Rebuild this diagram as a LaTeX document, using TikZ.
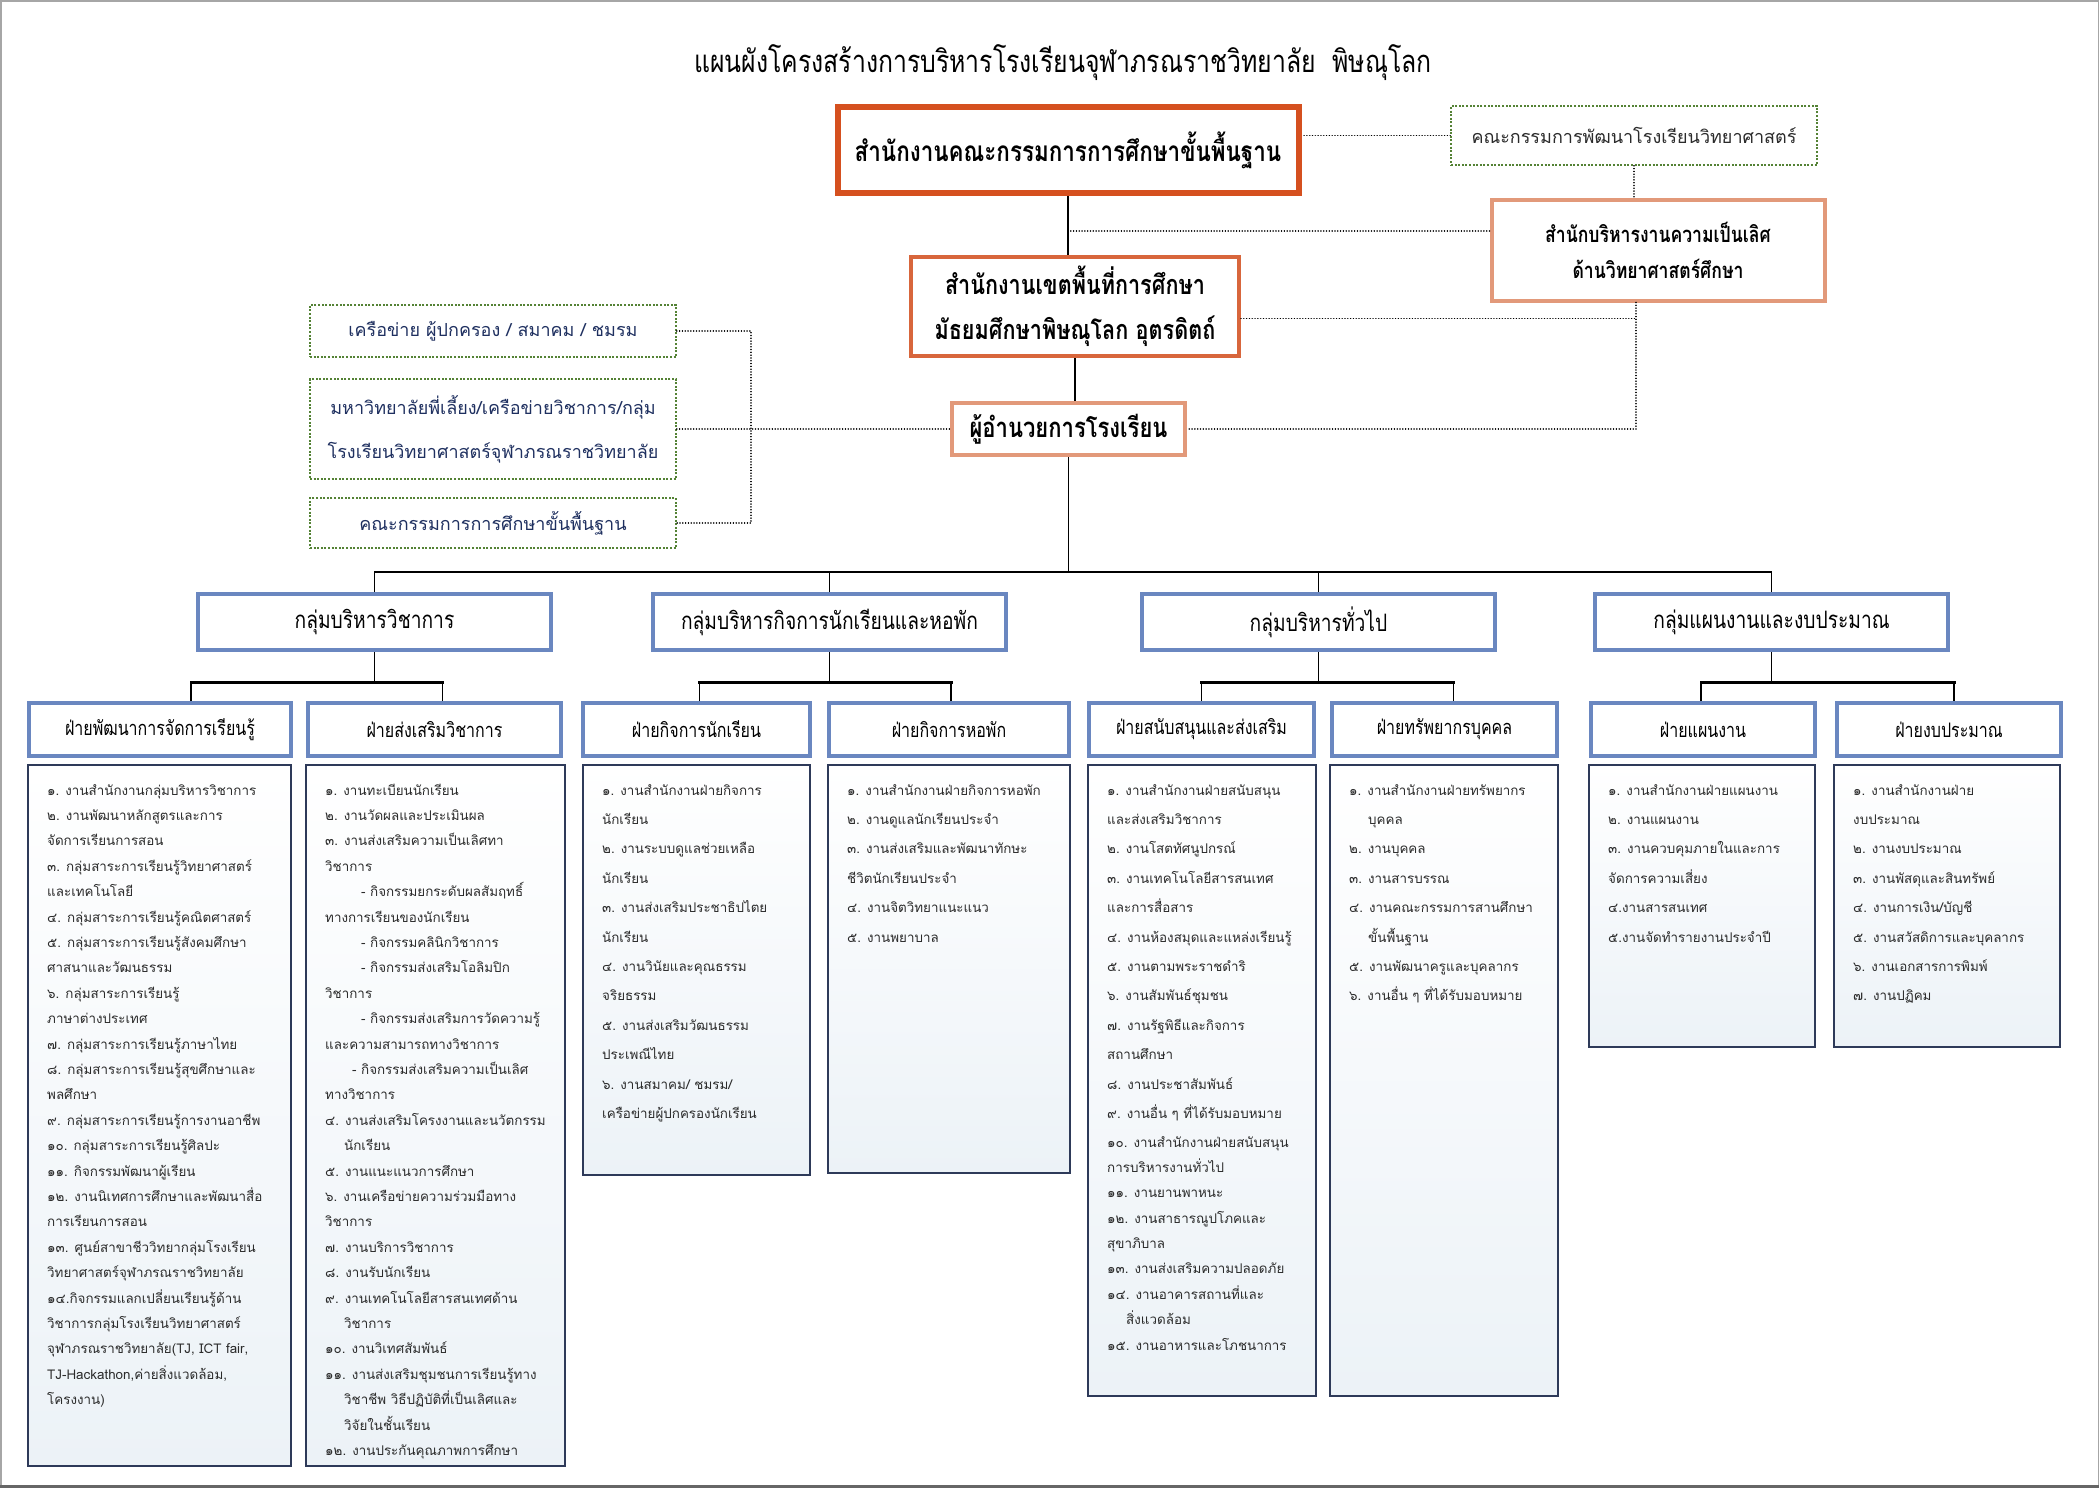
\documentclass[tikz,border=0pt]{standalone}
\usepackage{fontspec}
\setmainfont[Script=Thai]{Loma}
\newfontfamily\headfont[Script=Thai,FakeStretch=0.8]{Loma}
\definecolor{obecred}{HTML}{D5501F}
\definecolor{areared}{HTML}{D8663C}
\definecolor{salmon}{HTML}{E2997A}
\definecolor{netgreen}{HTML}{548235}
\definecolor{boxblue}{HTML}{6A87C0}
\definecolor{listnavy}{HTML}{2E3A59}
\definecolor{listbot}{HTML}{ECF2F7}
\definecolor{listgray}{HTML}{2B2B2B}
\definecolor{navytext}{HTML}{1F3060}

\begin{document}
\begin{tikzpicture}[x=1pt, y=-1pt,
  orgbox/.style={draw=#1, line width=4pt, fill=white, align=center, inner sep=0pt, text=black},
  netbox/.style={draw=netgreen, line width=1.6pt, dash pattern=on 2pt off 1.6pt, fill=white,
    align=center, inner sep=0pt, minimum width=366pt, text=navytext, font=\fontsize{18}{44}\selectfont},
  grpbox/.style={draw=boxblue, line width=4pt, fill=white, minimum width=353pt, minimum height=56pt,
    inner sep=0pt, font=\headfont\fontsize{24}{28}\selectfont},
  subbox/.style={draw=boxblue, line width=4pt, fill=white, minimum height=53pt, inner sep=0pt,
    font=\headfont\fontsize{20}{24}\selectfont},
  listbox/.style={draw=listnavy, line width=2pt, top color=white, bottom color=listbot,
    anchor=north, inner sep=0pt},
  listtext/.style={anchor=base west, inner sep=0pt, text=listgray, font=\fontsize{13.4}{#1}\selectfont},
  link/.style={line width=1.6pt},
  bus/.style={line width=3pt, line cap=rect},
  dotlink/.style={line width=1.6pt, line cap=round, dash pattern=on 0.01pt off 2.8pt}]

  \useasboundingbox (0,0) rectangle (2099,1491);
  % page frame
  \draw[gray!70, line width=1.5pt] (0.75,0.75) rectangle (2098.25,1487);
  \draw[gray!80!black, line width=3pt] (0,1486) -- (2099,1486);

  % title
  \node[font=\headfont\fontsize{31}{36}\selectfont] (title) at (1063,63)
    {แผนผังโครงสร้างการบริหารโรงเรียนจุฬาภรณราชวิทยาลัย\ \ พิษณุโลก};

  % top offices
  \node[orgbox=obecred, line width=6pt, minimum width=461pt, minimum height=86pt,
    font=\headfont\bfseries\fontsize{28}{32}\selectfont] (obec) at (1068,150)
    {สำนักงานคณะกรรมการการศึกษาขั้นพื้นฐาน};
  \node[netbox, minimum height=59pt, text=listgray, font=\fontsize{18}{20}\selectfont] (dev) at (1634,135.5)
    {คณะกรรมการพัฒนาโรงเรียนวิทยาศาสตร์};
  \node[orgbox=salmon, minimum width=333pt, minimum height=101pt,
    font=\headfont\bfseries\fontsize{22}{36}\selectfont] (exc) at (1658,250)
    {สำนักบริหารงานความเป็นเลิศ\\ด้านวิทยาศาสตร์ศึกษา};
  \node[orgbox=areared, minimum width=328pt, minimum height=99pt,
    font=\headfont\bfseries\fontsize{27}{45}\selectfont] (area) at (1075,306.5)
    {สำนักงานเขตพื้นที่การศึกษา\\มัธยมศึกษาพิษณุโลก อุตรดิตถ์};
  \node[orgbox=salmon, minimum width=233pt, minimum height=52pt,
    font=\headfont\bfseries\fontsize{27.5}{30}\selectfont] (dir) at (1068.5,429)
    {ผู้อำนวยการโรงเรียน};

  % networks on the left
  \node[netbox, minimum height=52pt] (net1) at (493,331) {เครือข่าย ผู้ปกครอง / สมาคม / ชมรม};
  \node[netbox, minimum height=100pt] (net2) at (493,429)
    {มหาวิทยาลัยพี่เลี้ยง/เครือข่ายวิชาการ/กลุ่ม\\โรงเรียนวิทยาศาสตร์จุฬาภรณราชวิทยาลัย};
  \node[netbox, minimum height=50pt] (net3) at (493,523) {คณะกรรมการการศึกษาขั้นพื้นฐาน};

  % links between offices
  \draw[link] (obec.south) -- (obec.south |- area.north);
  \draw[link] (area.south) -- (area.south |- dir.north);
  \draw[dotlink] (dev.west) -- (dev.west -| obec.east);
  \draw[dotlink] (dev.south) -- (dev.south |- exc.north);
  \draw[dotlink] ([yshift=19pt]exc.west) -- ([yshift=19pt]exc.west -| obec.south);
  \coordinate (excdown) at ([xshift=-22pt]exc.south);
  \draw[dotlink] (excdown) |- (dir.east);
  \draw[dotlink] ([yshift=-12pt]area.east) -- ([yshift=-12pt]area.east -| excdown);
  \coordinate (bracket) at (751,331);
  \draw[dotlink] (net1.east) -- (bracket) |- (net3.east);
  \draw[dotlink] (net2.east) -- (dir.west);

  % groups
  \node[grpbox] (g1) at (374.5,622) {กลุ่มบริหารวิชาการ};
  \node[grpbox] (g2) at (829.5,622) {กลุ่มบริหารกิจการนักเรียนและหอพัก};
  \node[grpbox] (g3) at (1318.5,622) {กลุ่มบริหารทั่วไป};
  \node[grpbox] (g4) at (1771.5,622) {กลุ่มแผนงานและงบประมาณ};

  \coordinate (mainbus) at (0,572);
  \draw[link] (dir.south) -- (dir.south |- mainbus);
  \draw[link] (g1.north) -- (g1.north |- mainbus) -- (g4.north |- mainbus) -- (g4.north);
  \draw[link] (g2.north) -- (g2.north |- mainbus);
  \draw[link] (g3.north) -- (g3.north |- mainbus);

  % sections
  \node[subbox, minimum width=262pt] (s1) at (160,729.5) {ฝ่ายพัฒนาการจัดการเรียนรู้};
  \node[subbox, minimum width=253pt] (s2) at (434.5,729.5) {ฝ่ายส่งเสริมวิชาการ};
  \node[subbox, minimum width=227pt] (s3) at (696.5,729.5) {ฝ่ายกิจการนักเรียน};
  \node[subbox, minimum width=240pt] (s4) at (949,729.5) {ฝ่ายกิจการหอพัก};
  \node[subbox, minimum width=225pt] (s5) at (1201.5,729.5) {ฝ่ายสนับสนุนและส่งเสริม};
  \node[subbox, minimum width=225pt] (s6) at (1444.5,729.5) {ฝ่ายทรัพยากรบุคคล};
  \node[subbox, minimum width=224pt] (s7) at (1703,729.5) {ฝ่ายแผนงาน};
  \node[subbox, minimum width=224pt] (s8) at (1949,729.5) {ฝ่ายงบประมาณ};

  \coordinate (subbus) at (0,682);
  \foreach \g/\a/\da/\b/\db in {g1/s1/31/s2/8, g2/s3/3/s4/2, g3/s5/0/s6/9, g4/s7/-2/s8/5} {
    \draw[link] (\g.south) -- (\g.south |- subbus);
    \coordinate (\a top) at ([xshift=\da pt]\a.north);
    \coordinate (\b top) at ([xshift=\db pt]\b.north);
    \draw[link] (\a top) -- (\a top |- subbus);
    \draw[link] (\b top) -- (\b top |- subbus);
    \draw[bus] (\a top |- subbus) -- (\b top |- subbus);
  }

  % task lists
  \node[listbox, minimum width=263pt, minimum height=701pt] (l1) at (159.5,764) {};
  \node[listbox, minimum width=259pt, minimum height=701pt] (l2) at (435.5,764) {};
  \node[listbox, minimum width=227pt, minimum height=410pt] (l3) at (696.5,764) {};
  \node[listbox, minimum width=242pt, minimum height=408pt] (l4) at (949,764) {};
  \node[listbox, minimum width=228pt, minimum height=631pt] (l5) at (1202,764) {};
  \node[listbox, minimum width=228pt, minimum height=631pt] (l6) at (1444,764) {};
  \node[listbox, minimum width=226pt, minimum height=282pt] (l7) at (1702,764) {};
  \node[listbox, minimum width=226pt, minimum height=282pt] (l8) at (1947,764) {};

  \node[listtext=25.4] (t1) at ([xshift=20pt,yshift=-31pt]l1.north west) {\parbox[t]{300pt}{%
    ๑. งานสำนักงานกลุ่มบริหารวิชาการ\\
    ๒. งานพัฒนาหลักสูตรและการ\\
    จัดการเรียนการสอน\\
    ๓. กลุ่มสาระการเรียนรู้วิทยาศาสตร์\\
    และเทคโนโลยี\\
    ๔. กลุ่มสาระการเรียนรู้คณิตศาสตร์\\
    ๕. กลุ่มสาระการเรียนรู้สังคมศึกษา\\
    ศาสนาและวัฒนธรรม\\
    ๖. กลุ่มสาระการเรียนรู้\\
    ภาษาต่างประเทศ\\
    ๗. กลุ่มสาระการเรียนรู้ภาษาไทย\\
    ๘. กลุ่มสาระการเรียนรู้สุขศึกษาและ\\
    พลศึกษา\\
    ๙. กลุ่มสาระการเรียนรู้การงานอาชีพ\\
    ๑๐. กลุ่มสาระการเรียนรู้ศิลปะ\\
    ๑๑. กิจกรรมพัฒนาผู้เรียน\\
    ๑๒. งานนิเทศการศึกษาและพัฒนาสื่อ\\
    การเรียนการสอน\\
    ๑๓. ศูนย์สาขาชีววิทยากลุ่มโรงเรียน\\
    วิทยาศาสตร์จุฬาภรณราชวิทยาลัย\\
    ๑๔.กิจกรรมแลกเปลี่ยนเรียนรู้ด้าน\\
    วิชาการกลุ่มโรงเรียนวิทยาศาสตร์\\
    จุฬาภรณราชวิทยาลัย(TJ, ICT fair,\\
    TJ-Hackathon,ค่ายสิ่งแวดล้อม,\\
    โครงงาน)}};

  \node[listtext=25.4] (t2) at ([xshift=20pt,yshift=-31pt]l2.north west) {\parbox[t]{300pt}{%
    ๑. งานทะเบียนนักเรียน\\
    ๒. งานวัดผลและประเมินผล\\
    ๓. งานส่งเสริมความเป็นเลิศทา\\
    วิชาการ\\
    \hspace*{36pt}- กิจกรรมยกระดับผลสัมฤทธิ์\\
    ทางการเรียนของนักเรียน\\
    \hspace*{36pt}- กิจกรรมคลินิกวิชาการ\\
    \hspace*{36pt}- กิจกรรมส่งเสริมโอลิมปิก\\
    วิชาการ\\
    \hspace*{36pt}- กิจกรรมส่งเสริมการวัดความรู้\\
    และความสามารถทางวิชาการ\\
    \hspace*{27pt}- กิจกรรมส่งเสริมความเป็นเลิศ\\
    ทางวิชาการ\\
    ๔. งานส่งเสริมโครงงานและนวัตกรรม\\
    \hspace*{19pt}นักเรียน\\
    ๕. งานแนะแนวการศึกษา\\
    ๖. งานเครือข่ายความร่วมมือทาง\\
    วิชาการ\\
    ๗. งานบริการวิชาการ\\
    ๘. งานรับนักเรียน\\
    ๙. งานเทคโนโลยีสารสนเทศด้าน\\
    \hspace*{19pt}วิชาการ\\
    ๑๐. งานวิเทศสัมพันธ์\\
    ๑๑. งานส่งเสริมชุมชนการเรียนรู้ทาง\\
    \hspace*{19pt}วิชาชีพ วิธีปฏิบัติที่เป็นเลิศและ\\
    \hspace*{19pt}วิจัยในชั้นเรียน\\
    ๑๒. งานประกันคุณภาพการศึกษา}};

  \node[listtext=29.4] (t3) at ([xshift=20pt,yshift=-31pt]l3.north west) {\parbox[t]{300pt}{%
    ๑. งานสำนักงานฝ่ายกิจการ\\
    นักเรียน\\
    ๒. งานระบบดูแลช่วยเหลือ\\
    นักเรียน\\
    ๓. งานส่งเสริมประชาธิปไตย\\
    นักเรียน\\
    ๔. งานวินัยและคุณธรรม\\
    จริยธรรม\\
    ๕. งานส่งเสริมวัฒนธรรม\\
    ประเพณีไทย\\
    ๖. งานสมาคม/ ชมรม/\\
    เครือข่ายผู้ปกครองนักเรียน}};

  \node[listtext=29.4] (t4) at ([xshift=20pt,yshift=-31pt]l4.north west) {\parbox[t]{300pt}{%
    ๑. งานสำนักงานฝ่ายกิจการหอพัก\\
    ๒. งานดูแลนักเรียนประจำ\\
    ๓. งานส่งเสริมและพัฒนาทักษะ\\
    ชีวิตนักเรียนประจำ\\
    ๔. งานจิตวิทยาแนะแนว\\
    ๕. งานพยาบาล}};

  \node[listtext=29.4] (t5) at ([xshift=20pt,yshift=-31pt]l5.north west) {\parbox[t]{300pt}{%
    ๑. งานสำนักงานฝ่ายสนับสนุน\\
    และส่งเสริมวิชาการ\\
    ๒. งานโสตทัศนูปกรณ์\\
    ๓. งานเทคโนโลยีสารสนเทศ\\
    และการสื่อสาร\\
    ๔. งานห้องสมุดและแหล่งเรียนรู้\\
    ๕. งานตามพระราชดำริ\\
    ๖. งานสัมพันธ์ชุมชน\\
    ๗. งานรัฐพิธีและกิจการ\\
    สถานศึกษา\\
    ๘. งานประชาสัมพันธ์\\
    ๙. งานอื่น ๆ ที่ได้รับมอบหมาย\\
    ๑๐. งานสำนักงานฝ่ายสนับสนุน\\[-5pt]
    การบริหารงานทั่วไป\\[-4pt]
    ๑๑. งานยานพาหนะ\\[-4pt]
    ๑๒. งานสาธารณูปโภคและ\\[-4pt]
    สุขาภิบาล\\[-4pt]
    ๑๓. งานส่งเสริมความปลอดภัย\\[-4pt]
    ๑๔. งานอาคารสถานที่และ\\[-4pt]
    \hspace*{19pt}สิ่งแวดล้อม\\[-4pt]
    ๑๕. งานอาหารและโภชนาการ}};

  \node[listtext=29.4] (t6) at ([xshift=20pt,yshift=-31pt]l6.north west) {\parbox[t]{300pt}{%
    ๑. งานสำนักงานฝ่ายทรัพยากร\\
    \hspace*{19pt}บุคคล\\
    ๒. งานบุคคล\\
    ๓. งานสารบรรณ\\
    ๔. งานคณะกรรมการสานศึกษา\\
    \hspace*{19pt}ขั้นพื้นฐาน\\
    ๕. งานพัฒนาครูและบุคลากร\\
    ๖. งานอื่น ๆ ที่ได้รับมอบหมาย}};

  \node[listtext=29.4] (t7) at ([xshift=20pt,yshift=-31pt]l7.north west) {\parbox[t]{300pt}{%
    ๑. งานสำนักงานฝ่ายแผนงาน\\
    ๒. งานแผนงาน\\
    ๓. งานควบคุมภายในและการ\\
    จัดการความเสี่ยง\\
    ๔.งานสารสนเทศ\\
    ๕.งานจัดทำรายงานประจำปี}};

  \node[listtext=29.4] (t8) at ([xshift=20pt,yshift=-31pt]l8.north west) {\parbox[t]{300pt}{%
    ๑. งานสำนักงานฝ่าย\\
    งบประมาณ\\
    ๒. งานงบประมาณ\\
    ๓. งานพัสดุและสินทรัพย์\\
    ๔. งานการเงิน/บัญชี\\
    ๕. งานสวัสดิการและบุคลากร\\
    ๖. งานเอกสารการพิมพ์\\
    ๗. งานปฏิคม}};
\end{tikzpicture}
\end{document}
